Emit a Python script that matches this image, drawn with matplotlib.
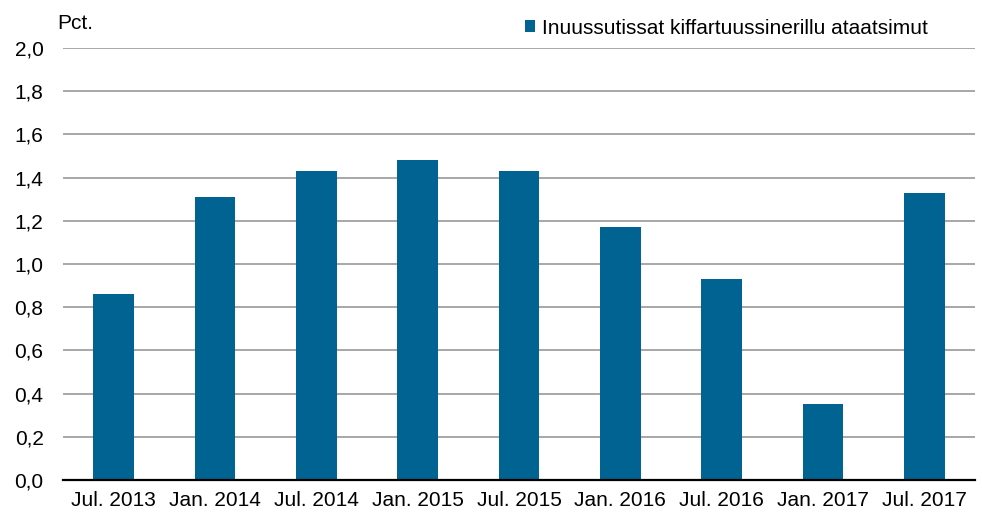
import matplotlib
matplotlib.use("Agg")
import matplotlib.pyplot as plt
from matplotlib.ticker import FuncFormatter

categories = ["Jul. 2013", "Jan. 2014", "Jul. 2014", "Jan. 2015", "Jul. 2015",
              "Jan. 2016", "Jul. 2016", "Jan. 2017", "Jul. 2017"]
values = [0.86, 1.31, 1.43, 1.48, 1.43, 1.17, 0.93, 0.35, 1.33]
series_name = "Inuussutissat kiffartuussinerillu ataatsimut"
y_ticks = [0.0, 0.2, 0.4, 0.6, 0.8, 1.0, 1.2, 1.4, 1.6, 1.8, 2.0]

plt.rcParams['font.family'] = ['Liberation Sans', 'DejaVu Sans']
color = "#006391"
fs = 15

fig = plt.figure(figsize=(9.82, 5.14), dpi=100)
ax = fig.add_axes([0.0642, 0.0661, 0.9287, 0.8405])

x = list(range(len(categories)))
ax.bar(x, values, width=0.4, color=color, zorder=3, label=series_name)

ax.set_xlim(-0.5, len(categories) - 0.5)
ax.set_ylim(0, 2.0)
ax.set_yticks(y_ticks)
ax.yaxis.set_major_formatter(FuncFormatter(lambda v, p: f"{v:.1f}".replace(".", ",")))
ax.set_xticks(x)
ax.set_xticklabels(categories)

ax.grid(axis='y', color='#a0a0a0', linewidth=1.3, zorder=0)
for s in ['top', 'right', 'left']:
    ax.spines[s].set_visible(False)
ax.spines['bottom'].set_color('black')
ax.spines['bottom'].set_linewidth(1.6)
ax.spines['bottom'].set_zorder(4)
ax.tick_params(axis='both', length=0, labelsize=fs, colors='black')
ax.tick_params(axis='y', pad=14)
ax.tick_params(axis='x', pad=8)

fig.text(0.058, 0.955, "Pct.", fontsize=fs, ha='left', va='center')

fig.legend(loc='center left', bbox_to_anchor=(525 / 982, 1 - 28 / 514), frameon=False,
           fontsize=fs, handlelength=0.5, handleheight=0.5, handletextpad=0.3,
           borderaxespad=0, borderpad=0)

fig.savefig("out.png", dpi=100, facecolor='white')
